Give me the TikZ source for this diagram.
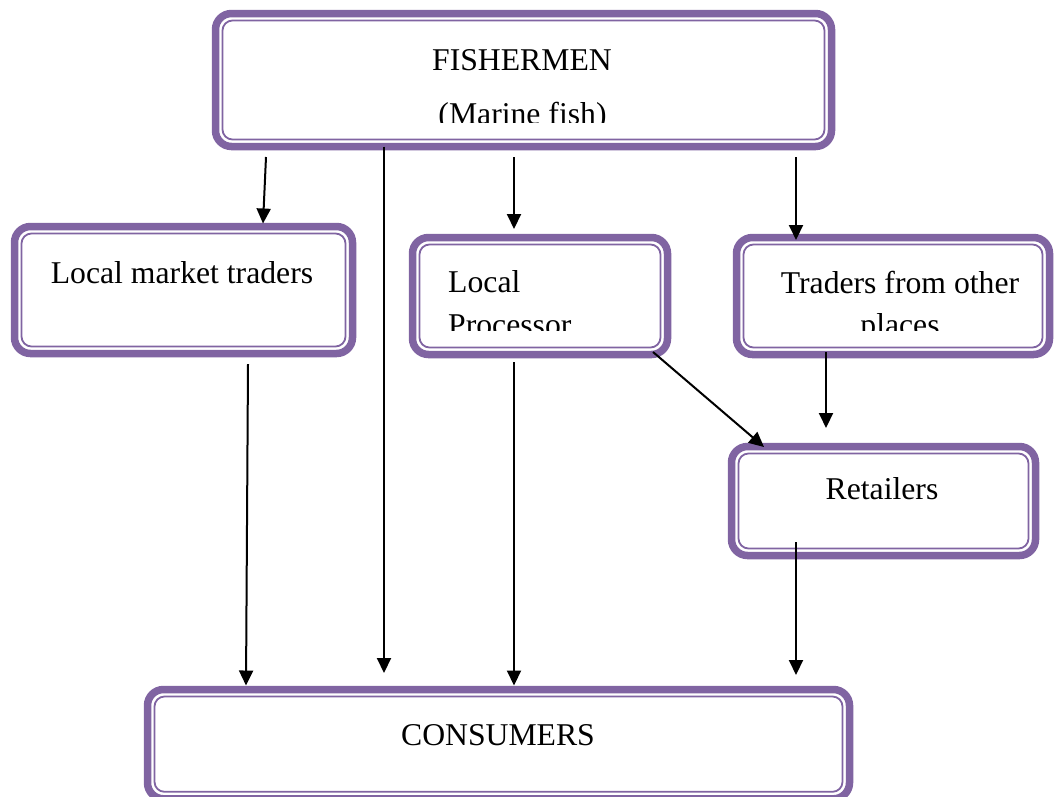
\documentclass[tikz,border=0pt]{standalone}
\usepackage{fontspec}
\setmainfont{Liberation Serif}
\usetikzlibrary{arrows.meta}
\definecolor{boxpurple}{RGB}{128,100,162}
\begin{document}
\begin{tikzpicture}[x=1pt,y=-1pt,
  framebox/.style={draw=boxpurple, line width=7.5pt, rounded corners=16pt,
    inner sep=0pt, outer sep=0pt, fill=white},
  innerline/.style={draw=boxpurple, line width=1.8pt, rounded corners=10pt},
  lbl/.style={font=\fontsize{31.7}{38}\selectfont, inner sep=0pt, anchor=base},
  arr/.style={draw=black, line width=2pt, -{Triangle[length=15pt,width=14pt]}}]
\useasboundingbox (0,0) rectangle (1056,796);

% boxes: thick rounded frame with a thin line just inside it
\node[framebox, minimum width=616pt, minimum height=133pt] (fish) at (523.5,80) {};
\node[framebox, minimum width=338pt, minimum height=127pt] (lmt) at (183.5,290) {};
\node[framebox, minimum width=255pt, minimum height=117pt] (proc) at (540,296) {};
\node[framebox, minimum width=313pt, minimum height=117pt] (other) at (893,296) {};
\node[framebox, minimum width=304pt, minimum height=109pt] (ret) at (883.5,501) {};
\node[framebox, minimum width=702pt, minimum height=109.3pt] (cons) at (498.5,744.15) {};
\foreach \n in {fish,lmt,proc,other,ret,cons}
  \draw[innerline] ([xshift=7pt,yshift=-7pt]\n.north west) rectangle
                   ([xshift=-7pt,yshift=7pt]\n.south east);

% labels
\node[lbl] (tfish) at (522,70) {FISHERMEN};
\begin{scope}
  \clip (300,90) rectangle (750,122.5);
  \node[lbl] (tmarine) at (522.5,124) {(Marine fish)};
\end{scope}
\node[lbl] (tlmt) at (182,283) {Local market traders};
\node[lbl, anchor=base west] (tlocal) at (448,292) {Local};
\begin{scope}
  \clip (430,300) rectangle (660,330);
  \node[lbl, anchor=base west] (tproc) at (448,335) {Processor};
\end{scope}
\node[lbl] (tother) at (900,293) {Traders from other};
\begin{scope}
  \clip (750,300) rectangle (1040,330);
  \node[lbl] (tplaces) at (900,335) {places};
\end{scope}
\node[lbl] (tret) at (882,499) {Retailers};
\node[lbl] (tcons) at (498,745) {CONSUMERS};

% connectors
\draw[arr] ([xshift=-257.5pt,yshift=-10.5pt]fish.south) -- ([xshift=79.5pt,yshift=3pt]lmt.north);
\draw[arr] ([xshift=-139.5pt]fish.south) -- ([xshift=-114.5pt,yshift=16.5pt]cons.north);
\draw[arr] ([xshift=-9.5pt,yshift=-10.5pt]fish.south) -- ([xshift=-26pt,yshift=8.5pt]proc.north);
\draw[arr] ([xshift=272.5pt,yshift=-10.5pt]fish.south) -- ([xshift=-97pt,yshift=-2.5pt]other.north);
\draw[arr] ([xshift=64.5pt,yshift=-10.5pt]lmt.south) -- ([xshift=-252.5pt,yshift=4pt]cons.north);
\draw[arr] ([xshift=-26pt,yshift=-7.5pt]proc.south) -- ([xshift=15.5pt,yshift=4pt]cons.north);
\draw[arr] ([xshift=113pt,yshift=2.5pt]proc.south) -- ([xshift=-119.5pt,yshift=-0.5pt]ret.north);
\draw[arr] ([xshift=-67pt,yshift=2.5pt]other.south) -- ([xshift=-57.5pt,yshift=18.5pt]ret.north);
\draw[arr] ([xshift=-87.5pt,yshift=13.5pt]ret.south) -- ([xshift=297.5pt,yshift=14.5pt]cons.north);
\end{tikzpicture}
\end{document}
